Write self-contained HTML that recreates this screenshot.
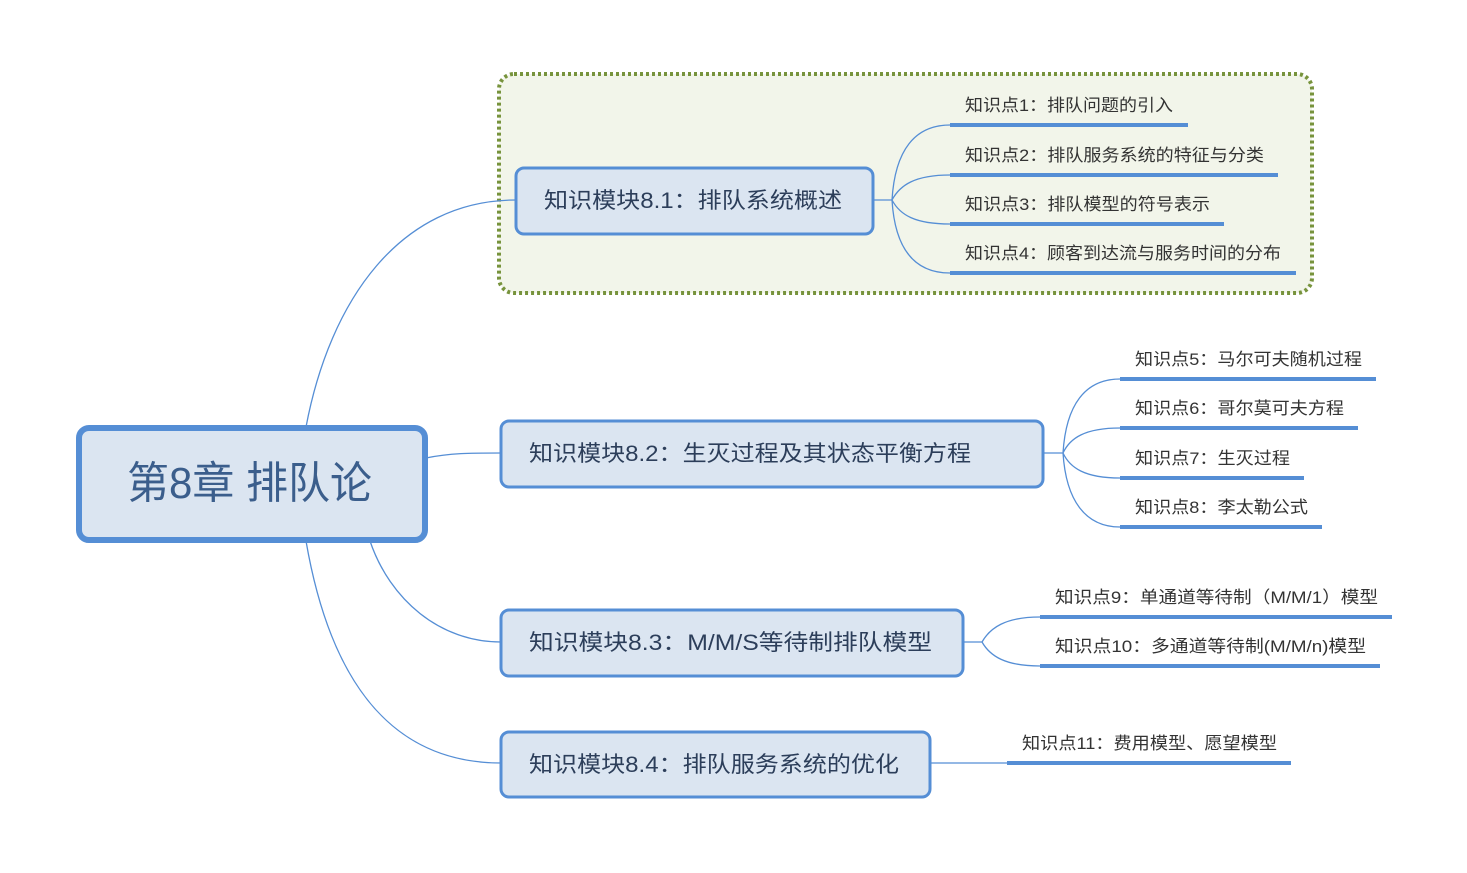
<!DOCTYPE html>
<html><head><meta charset="utf-8"><style>
html,body{margin:0;padding:0;background:#fff;}
svg{display:block;}
text{font-family:"Liberation Sans","Noto Sans CJK SC",sans-serif;}
.m{font-size:22px;fill:#2c3e5a;}
.l{font-size:17px;fill:#333;}
.c{fill:none;stroke:#558ed5;stroke-width:1.3;}
.u{stroke:#558ed5;stroke-width:4;}
.b{fill:#dbe5f1;stroke:#558ed5;stroke-width:3;}
</style></head><body>
<svg width="1467" height="873" viewBox="0 0 1467 873">
<rect x="499" y="74" width="813" height="219" rx="15" fill="#f2f5ea" stroke="#77933c" stroke-width="4" stroke-dasharray="3,3"/>
<path class="c" d="M306 427 C330 300 400 200 516 200"/>
<path class="c" d="M426 458 C450 453 470 453 501 453"/>
<path class="c" d="M370 541 C390 600 440 642 501 642"/>
<path class="c" d="M306 541 C330 680 390 763 501 763"/>
<rect x="79" y="428" width="346" height="112" rx="10" fill="#dbe5f1" stroke="#558ed5" stroke-width="6"/>
<text x="127" y="498" textLength="245" lengthAdjust="spacingAndGlyphs" style="font-size:44px;fill:#3b5e8c">第8章 排队论</text>
<rect class="b" x="516" y="168" width="357" height="66" rx="8"/>
<text class="m" x="544" y="208" textLength="298" lengthAdjust="spacingAndGlyphs">知识模块8.1：排队系统概述</text>
<rect class="b" x="501" y="421" width="542" height="66" rx="8"/>
<text class="m" x="529" y="461" textLength="442" lengthAdjust="spacingAndGlyphs">知识模块8.2：生灭过程及其状态平衡方程</text>
<rect class="b" x="501" y="610" width="462" height="66" rx="8"/>
<text class="m" x="529" y="650" textLength="403" lengthAdjust="spacingAndGlyphs">知识模块8.3：M/M/S等待制排队模型</text>
<rect class="b" x="501" y="732" width="429" height="65" rx="8"/>
<text class="m" x="529" y="772" textLength="370" lengthAdjust="spacingAndGlyphs">知识模块8.4：排队服务系统的优化</text>
<path class="c" d="M873 200 H892 M892 200 C895 150 915 125 950 125 M892 200 C900 185 915 175 950 175 M892 200 C900 215 915 224 950 224 M892 200 C895 250 915 273 950 273"/>
<line class="u" x1="950" y1="125" x2="1188" y2="125"/>
<line class="u" x1="950" y1="175" x2="1278" y2="175"/>
<line class="u" x1="950" y1="224" x2="1224" y2="224"/>
<line class="u" x1="950" y1="273" x2="1296" y2="273"/>
<text class="l" x="965" y="111" textLength="208" lengthAdjust="spacingAndGlyphs">知识点1：排队问题的引入</text>
<text class="l" x="965" y="161" textLength="299" lengthAdjust="spacingAndGlyphs">知识点2：排队服务系统的特征与分类</text>
<text class="l" x="965" y="210" textLength="245" lengthAdjust="spacingAndGlyphs">知识点3：排队模型的符号表示</text>
<text class="l" x="965" y="259" textLength="316" lengthAdjust="spacingAndGlyphs">知识点4：顾客到达流与服务时间的分布</text>
<path class="c" d="M1043 453 H1063 M1063 453 C1066 405 1085 379 1120 379 M1063 453 C1070 438 1085 428 1120 428 M1063 453 C1070 468 1085 478 1120 478 M1063 453 C1066 500 1085 527 1120 527"/>
<line class="u" x1="1120" y1="379" x2="1376" y2="379"/>
<line class="u" x1="1120" y1="428" x2="1358" y2="428"/>
<line class="u" x1="1120" y1="478" x2="1304" y2="478"/>
<line class="u" x1="1120" y1="527" x2="1322" y2="527"/>
<text class="l" x="1135" y="365" textLength="227" lengthAdjust="spacingAndGlyphs">知识点5：马尔可夫随机过程</text>
<text class="l" x="1135" y="414" textLength="209" lengthAdjust="spacingAndGlyphs">知识点6：哥尔莫可夫方程</text>
<text class="l" x="1135" y="464" textLength="155" lengthAdjust="spacingAndGlyphs">知识点7：生灭过程</text>
<text class="l" x="1135" y="513" textLength="173" lengthAdjust="spacingAndGlyphs">知识点8：李太勒公式</text>
<path class="c" d="M963 642 H982 M982 642 C990 628 1005 617 1040 617 M982 642 C990 656 1005 666 1040 666"/>
<line class="u" x1="1040" y1="617" x2="1392" y2="617"/>
<line class="u" x1="1040" y1="666" x2="1380" y2="666"/>
<text class="l" x="1055" y="603" textLength="323" lengthAdjust="spacingAndGlyphs">知识点9：单通道等待制（M/M/1）模型</text>
<text class="l" x="1055" y="652" textLength="311" lengthAdjust="spacingAndGlyphs">知识点10：多通道等待制(M/M/n)模型</text>
<path class="c" d="M930 763 H1007"/>
<line class="u" x1="1007" y1="763" x2="1291" y2="763"/>
<text class="l" x="1022" y="749" textLength="255" lengthAdjust="spacingAndGlyphs">知识点11：费用模型、愿望模型</text>
</svg>
</body></html>
